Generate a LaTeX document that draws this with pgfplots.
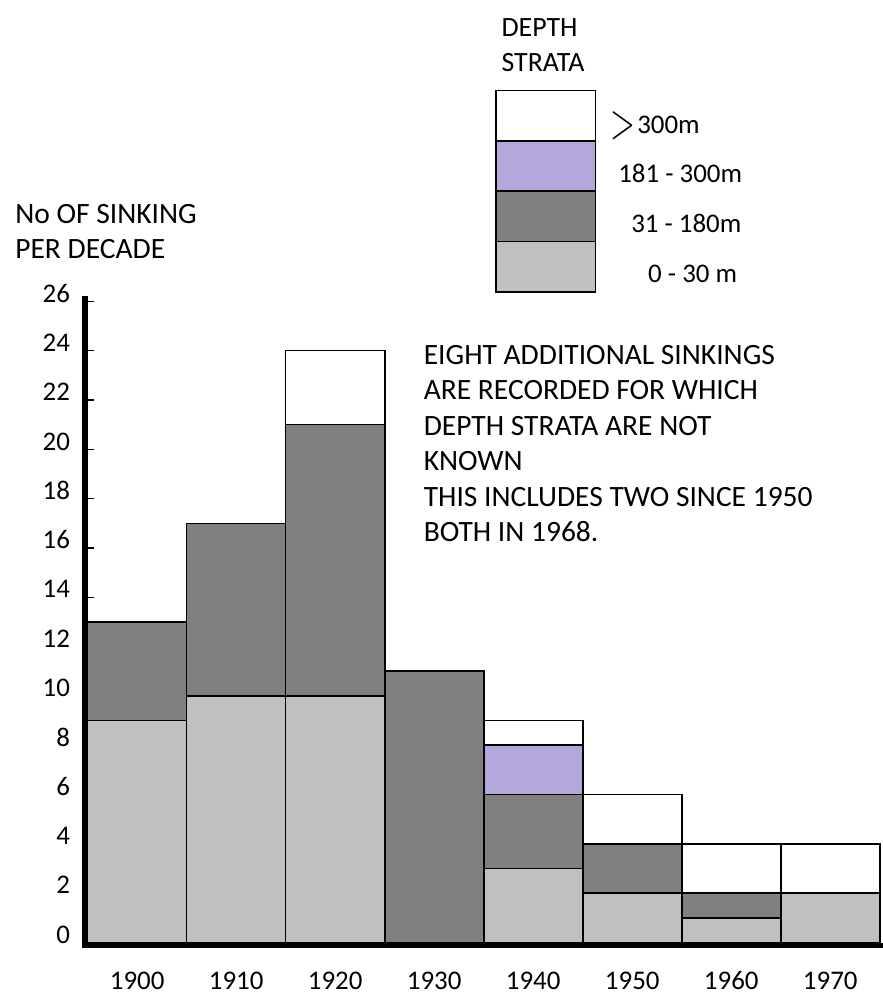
\documentclass[border=0pt]{standalone}
\usepackage{fontspec}
\setmainfont{Carlito}
\usepackage{graphicx}
\usepackage{pgfplots}
\pgfplotsset{compat=1.18}
\definecolor{lightg}{HTML}{C0C0C0}
\definecolor{darkg}{HTML}{808080}
\definecolor{lav}{HTML}{B4A7DC}
\begin{document}
\begin{tikzpicture}
\begin{axis}[
  x=49.6875pt, y=12.375pt,
  xmin=-0.528, xmax=7.5, ymin=-0.113, ymax=26.1,
  ybar stacked, bar width=1,
  axis x line=bottom, axis y line=left,
  axis line style={-, line width=2.8pt, line cap=rect},
  xtick={0,1,2,3,4,5,6,7},
  xticklabels={1900,1910,1920,1930,1940,1950,1960,1970},
  x tick style={draw=none},
  ytick={0,2,...,26},
  y tick style={black, line width=0.6pt},
  tick align=inside,
  major tick length=4.5pt,
  /pgf/number format/assume math mode=true,
  tick label style={font=\fontsize{13.5}{16}\selectfont},
  yticklabel style={xshift=-4pt, yshift=4pt},
  xticklabel style={anchor=base, yshift=-22pt},
  clip=false,
  reverse legend,
  legend cell align=left,
  legend style={at={(axis cs:3.6158,34.586)}, anchor=north west, draw=none, fill=none,
    inner sep=0pt, outer sep=0pt, row sep=-0.75pt, column sep=0pt,
    font=\fontsize{13.5}{16}\selectfont, nodes={inner sep=0pt}},
]
\addplot[fill=lightg, draw=black, line width=0.8pt,
  legend image code/.code={\draw[fill=lightg, line width=0.8pt] (0pt,-8.4pt) rectangle (50pt,16.85pt);}]
  coordinates {(0,9) (1,10) (2,10) (3,0) (4,3) (5,2) (6,1) (7,2)};
\addlegendentry{\hspace*{26pt}0 - 30 m}
\addplot[fill=darkg, draw=black, line width=0.8pt,
  legend image code/.code={\draw[fill=darkg, line width=0.8pt] (0pt,-8.4pt) rectangle (50pt,16.85pt);}]
  coordinates {(0,4) (1,7) (2,11) (3,11) (4,3) (5,2) (6,1) (7,0)};
\addlegendentry{\hspace*{17.5pt}31 - 180m}
\addplot[fill=lav, draw=black, line width=0.8pt,
  legend image code/.code={\draw[fill=lav, line width=0.8pt] (0pt,-8.4pt) rectangle (50pt,16.85pt);}]
  coordinates {(0,0) (1,0) (2,0) (3,0) (4,2) (5,0) (6,0) (7,0)};
\addlegendentry{\hspace*{11pt}181 - 300m}
\addplot[fill=white, draw=black, line width=0.8pt,
  legend image code/.code={\draw[fill=white, line width=0.8pt] (0pt,-8.4pt) rectangle (50pt,16.85pt);}]
  coordinates {(0,0) (1,0) (2,3) (3,0) (4,1) (5,2) (6,2) (7,2)};
\addlegendentry{\hspace*{7pt}\raisebox{-2.5pt}{\resizebox{12.5pt}{13.5pt}{$>$}}\hspace{1pt}300m}

\node[anchor=north west, align=left, inner sep=0pt, font=\fontsize{14.8}{17.5}\selectfont]
  at (axis cs:-1.2346,29.94) {No OF SINKING\\PER DECADE};
\node[anchor=north west, align=left, inner sep=0pt, font=\fontsize{14}{17.5}\selectfont]
  at (axis cs:3.676,37.49) {DEPTH\\STRATA};
\node[anchor=north west, align=left, inner sep=0pt, font=\fontsize{14.8}{17.8}\selectfont]
  at (axis cs:2.891,24.24) {EIGHT ADDITIONAL SINKINGS\\ARE RECORDED FOR WHICH\\DEPTH STRATA ARE NOT\\KNOWN\\THIS INCLUDES TWO SINCE 1950\\BOTH IN 1968.};
\path (axis cs:-1.3855,-2.0202) rectangle (axis cs:7.5,38.222);
\end{axis}
\end{tikzpicture}
\end{document}
